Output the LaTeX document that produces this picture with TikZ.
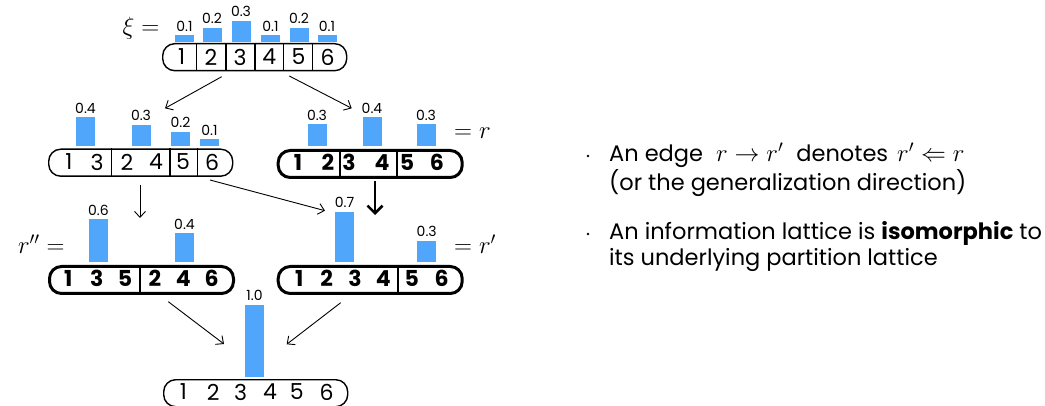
\documentclass[tikz,border=0pt]{standalone}
\usepackage[no-math]{fontspec}
\setmainfont{Poppins}
\usetikzlibrary{arrows.meta}
\definecolor{barblue}{RGB}{80,166,250}
\newcommand\mybar[4]{\node[bar, minimum height={#4*72pt}, label={[val]above:#4}] (#1) at (#2,#3) {};}
\newcommand\bm[1]{{\fontsize{26}{26}\selectfont$#1$}}
\begin{document}
\begin{tikzpicture}[x=1pt,y=-1pt,
  box/.style={draw, line width=1.4pt, rounded corners=12pt, minimum width=184pt, minimum height=27pt, inner sep=0pt, anchor=north west},
  thickbox/.style={box, line width=3pt},
  divthin/.style={line width=1.1pt},
  divthick/.style={line width=2.4pt},
  dig/.style={font=\fontsize{22}{22}\selectfont, inner sep=0pt, anchor=center},
  bdig/.style={inner sep=0pt, anchor=center, font=\fontsize{22}{22}\selectfont\bfseries},
  bar/.style={fill=barblue, minimum width=19pt, inner sep=0pt, anchor=south},
  val/.style={font=\fontsize{14}{14}\selectfont, inner sep=0pt, label distance=3.5pt},
  mlab/.style={font=\fontsize{27}{27}\selectfont, inner sep=0pt},
  txt/.style={font=\fontsize{22.5}{22.5}\selectfont, inner sep=0pt, anchor=base west},
  arr/.style={-{Straight Barb[length=6pt,width=11pt]}, line width=0.9pt},
  tarr/.style={-{Straight Barb[length=7.5pt,width=15pt]}, line width=2.6pt},
  dot/.style={circle, fill, inner sep=0pt, minimum size=2.8pt}
]
\useasboundingbox (0,0) rectangle (1045,406);

% ---- top box xi
\node[box] (xi) at (162,43) {};
\foreach \x in {196.7,226,255,283.7,312.7} \draw[divthin] (\x,0 |- xi.north) -- (\x,0 |- xi.south);
\foreach \x/\d in {181.7/1,210.9/2,240.1/3,269.3/4,298.5/5,327.7/6} \node[dig] (xi-\d) at (\x,57) {\d};
\mybar{xb1}{184.5}{42.5}{0.1}
\mybar{xb2}{212}{42.5}{0.2}
\mybar{xb3}{241}{42.5}{0.3}
\mybar{xb4}{270.5}{42.5}{0.1}
\mybar{xb5}{299}{42.5}{0.2}
\mybar{xb6}{327}{42.5}{0.1}
\node[mlab, anchor=base east] (xilab) at (159.4,34.75) {$\xi=$};

% ---- middle left box
\node[box] (L) at (48,148.5) {};
\foreach \x in {111.7,170,197.7} \draw[divthin] (\x,0 |- L.north) -- (\x,0 |- L.south);
\foreach \x/\d in {69/1,97/3,127/2,156/4,183/5,212/6} \node[dig] (L-\d) at (\x,162) {\d};
\mybar{lb1}{85.5}{146.5}{0.4}
\mybar{lb2}{141}{146.5}{0.3}
\mybar{lb3}{180.5}{146.5}{0.2}
\mybar{lb4}{209.5}{146.5}{0.1}

% ---- middle right box (r)
\node[thickbox] (R) at (276.7,149) {};
\foreach \x in {340,396.7} \draw[divthick] (\x,0 |- R.north) -- (\x,0 |- R.south);
\foreach \x/\d in {298/1,328/2,349/3,382/4,407/5,437/6} \node[bdig] (R-\d) at (\x,162.5) {\d};
\mybar{rb1}{317}{146}{0.3}
\mybar{rb2}{372}{146}{0.4}
\mybar{rb3}{426}{146}{0.3}
\node[mlab, anchor=base west] (rlab) at (454,138.5) {$=r$};

% ---- r'' box
\node[thickbox] (A) at (48,265) {};
\draw[divthick] (140,0 |- A.north) -- (140,0 |- A.south);
\foreach \x/\d in {68.3/1,96.7/3,125/5,155/2,183.3/4,211.7/6} \node[bdig] (A-\d) at (\x,278.5) {\d};
\mybar{ab1}{98.5}{262.5}{0.6}
\mybar{ab2}{184.5}{262.5}{0.4}
\node[mlab, anchor=base east] (alab) at (64.7,253.75) {$r''=$};

% ---- r' box
\node[thickbox] (B) at (276.7,265) {};
\draw[divthick] (397.7,0 |- B.north) -- (397.7,0 |- B.south);
\foreach \x/\d in {299.3/1,326.7/2,355/3,383.3/4,411.7/5,441.7/6} \node[bdig] (B-\d) at (\x,278.5) {\d};
\mybar{bb1}{344.5}{262.5}{0.7}
\mybar{bb2}{426.7}{262.5}{0.3}
\node[mlab, anchor=base west] (blab) at (454,253.75) {$=r'$};

% ---- bottom box
\node[box] (Z) at (163,379) {};
\foreach \x/\d in {183.3/1,213.3/2,240.5/3,270/4,296.7/5,326.7/6} \node[dig] (Z-\d) at (\x,392) {\d};
\mybar{zb1}{254.5}{377}{1.0}

% ---- arrows
\coordinate (a1s) at (221.7,76.7); \coordinate (a1e) at (165,108.3);
\coordinate (a2s) at (289.3,76);   \coordinate (a2e) at (351.7,108.3);
\coordinate (a3s) at (140,185);    \coordinate (a3e) at (140,218);
\coordinate (a4s) at (210,180);    \coordinate (a4e) at (325,210.7);
\coordinate (a5s) at (375,181.5);  \coordinate (a5e) at (375,215);
\coordinate (a6s) at (168.3,301.7); \coordinate (a6e) at (224,344);
\coordinate (a7s) at (340.7,302.7); \coordinate (a7e) at (286.7,344.3);
\draw[arr] (a1s) -- (a1e);
\draw[arr] (a2s) -- (a2e);
\draw[arr] (a3s) -- (a3e);
\draw[arr] (a4s) -- (a4e);
\draw[tarr] (a5s) -- (a5e);
\draw[arr] (a6s) -- (a6e);
\draw[arr] (a7s) -- (a7e);

% ---- text
\node[dot] (d1) at (588,156) {};
\node[txt] (t1) at (609,162) {An edge\hspace{13pt}\bm{r\to r'}\hspace{13pt}denotes\hspace{9pt}\bm{r'\Leftarrow r}};
\node[txt] (t2) at (609,191) {(or the generalization direction)};
\node[dot] (d2) at (588,234) {};
\node[txt] (t3) at (609,240) {An information lattice is \textbf{isomorphic} to};
\node[txt] (t4) at (609,266) {its underlying partition lattice};
\end{tikzpicture}
\end{document}
